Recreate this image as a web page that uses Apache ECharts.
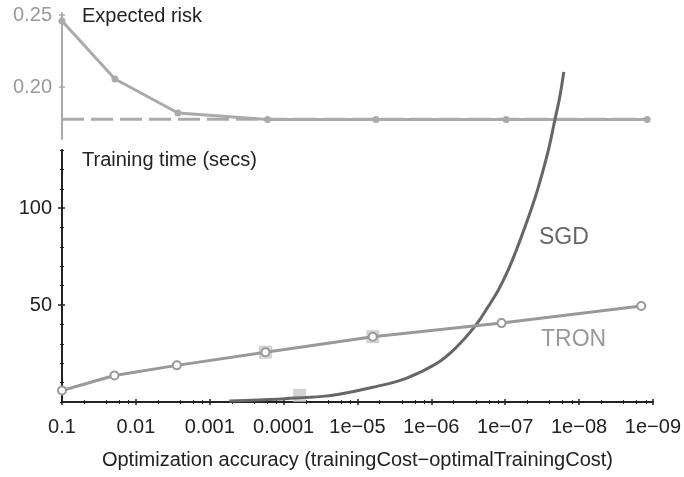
<!DOCTYPE html>
<html><head><meta charset="utf-8">
<script src="https://cdn.jsdelivr.net/npm/echarts@6/dist/echarts.min.js"></script>
<style>html,body{margin:0;padding:0;background:#fff}#c{width:684px;height:477px}</style>
</head><body><div id="c"></div>
<script>
// ---- data ----
const accuracy = [0.1, 0.0195, 0.00279, 1.76e-4, 6.2e-6, 1.12e-7, 1.44e-9];
const expectedRisk = [0.2458, 0.2056, 0.182, 0.1776, 0.1776, 0.1776, 0.1776];
const riskLimit = 0.1777;
const tronTime = [5.9, 13.7, 18.9, 25.7, 33.7, 40.7, 49.5];
const sgdAccuracy = [5.43e-4, 2.22e-4, 9.66e-5, 2.99e-5, 1.77e-5, 6.40e-6, 2.24e-6, 8.61e-7, 4.65e-7, 2.51e-7, 1.68e-7, 1.23e-7, 9.33e-8, 7.29e-8, 5.69e-8, 4.31e-8, 3.58e-8, 2.63e-8, 2.12e-8, 1.82e-8, 1.61e-8];
const sgdTime = [0.5, 1.0, 1.7, 2.9, 4.0, 7.5, 12.1, 19.7, 28.0, 39.5, 49.5, 57.9, 67.2, 77.0, 87.9, 100.8, 110.5, 129.2, 145.7, 157.6, 170.3];
const markAccuracy = [1.76e-4, 6.2e-6, 6.07e-5];
const markTime = [25.7, 33.7, 3.4];
const xTickValues = [0.1, 0.01, 1e-3, 1e-4, 1e-5, 1e-6, 1e-7, 1e-8, 1e-9];
const xTickLabels = ['0.1', '0.01', '0.001', '0.0001', '1e\u221205', '1e\u221206', '1e\u221207', '1e\u221208', '1e\u221209'];
const xMinorDivisors = [2, 4, 6, 8];
const riskTickValues = [0.20, 0.25];
const riskTickLabels = ['0.20', '0.25'];
const timeTickValues = [50, 100];
const timeTickLabels = ['50', '100'];
const timeMinorTicks = [0, 10, 20, 30, 40, 60, 70, 80, 90, 110, 120, 130];

// ---- build ----
const FF = 'Liberation Sans, Arial, Helvetica, sans-serif';
const FS = 20;
const X_MIN = 1e-9, X_MAX = 0.1;
const xMinorValues = [];
xTickValues.slice(0, -1).forEach(d => xMinorDivisors.forEach(k => xMinorValues.push(d / k)));
function lookup(vals, labels, v) {
  let best = 0, bd = Infinity;
  vals.forEach((t, i) => { const dd = Math.abs(Math.log10(Math.abs(t)) - Math.log10(Math.abs(v))); if (dd < bd) { bd = dd; best = i; } });
  return labels[best];
}
const baseX = { type: 'log', min: X_MIN, max: X_MAX, inverse: true, position: 'bottom', splitLine: { show: false }, minorTick: { show: false } };
const chart = echarts.init(document.getElementById('c'), null, { renderer: 'canvas' });
chart.setOption({
  animation: false,
  backgroundColor: '#fff',
  textStyle: { fontFamily: FF },
  grid: [
    { left: 62, right: 25, top: 13, height: 126 },
    { left: 62, right: 25, top: 150, height: 252 }
  ],
  xAxis: [
    Object.assign({}, baseX, { gridIndex: 0, show: false }),
    Object.assign({}, baseX, {
      gridIndex: 1,
      axisLine: { show: true, onZero: false, lineStyle: { color: '#222', width: 2 } },
      axisTick: { show: false },
      axisLabel: { customValues: xTickValues, formatter: v => lookup(xTickValues, xTickLabels, v), color: '#222', fontSize: FS, margin: 15, fontFamily: FF },
      name: 'Optimization accuracy (trainingCost\u2212optimalTrainingCost)',
      nameLocation: 'middle', nameGap: 48,
      nameTextStyle: { color: '#222', fontSize: FS, fontFamily: FF }
    }),
    Object.assign({}, baseX, {
      gridIndex: 1, offset: -3,
      axisLine: { show: false, onZero: false }, axisLabel: { show: false },
      axisTick: { show: true, customValues: xTickValues, length: 6, lineStyle: { color: '#222', width: 1.5 } }
    }),
    Object.assign({}, baseX, {
      gridIndex: 1, offset: -2,
      axisLine: { show: false, onZero: false }, axisLabel: { show: false },
      axisTick: { show: true, customValues: xMinorValues, length: 4, lineStyle: { color: '#222', width: 1 } }
    })
  ],
  yAxis: [
    { type: 'value', gridIndex: 0, min: 0.164, max: 0.2514, position: 'left', splitLine: { show: false },
      axisLine: { show: true, onZero: false, lineStyle: { color: '#aaa', width: 2 } }, axisTick: { show: false },
      axisLabel: { customValues: riskTickValues, formatter: v => riskTickLabels[riskTickValues.findIndex(t => Math.abs(t - v) < 1e-6)], color: '#999', fontSize: FS, margin: 10, fontFamily: FF } },
    { type: 'value', gridIndex: 0, min: 0.164, max: 0.2514, position: 'left', offset: -3, splitLine: { show: false },
      axisLine: { show: false, onZero: false }, axisLabel: { show: false },
      axisTick: { show: true, customValues: riskTickValues, length: 6, lineStyle: { color: '#aaa', width: 1.5 } } },
    { type: 'value', gridIndex: 1, min: 0, max: 130, position: 'left', splitLine: { show: false },
      axisLine: { show: true, onZero: false, lineStyle: { color: '#222', width: 2 } }, axisTick: { show: false },
      axisLabel: { customValues: timeTickValues, formatter: v => timeTickLabels[timeTickValues.indexOf(v)], color: '#222', fontSize: FS, margin: 10, fontFamily: FF } },
    { type: 'value', gridIndex: 1, min: 0, max: 130, position: 'left', offset: -3, splitLine: { show: false },
      axisLine: { show: false, onZero: false }, axisLabel: { show: false },
      axisTick: { show: true, customValues: timeTickValues, length: 7, lineStyle: { color: '#222', width: 1.5 } } },
    { type: 'value', gridIndex: 1, min: 0, max: 130, position: 'left', offset: -2, splitLine: { show: false },
      axisLine: { show: false, onZero: false }, axisLabel: { show: false },
      axisTick: { show: true, customValues: timeMinorTicks, length: 4, lineStyle: { color: '#222', width: 1 } } }
  ],
  series: [
    { type: 'line', name: 'risk limit', xAxisIndex: 0, yAxisIndex: 0, symbol: 'none', z: 2,
      data: [[accuracy[0], riskLimit], [accuracy[accuracy.length - 1], riskLimit]],
      lineStyle: { color: '#aaa', width: 3, type: [22, 7] } },
    { type: 'line', name: 'Expected risk', xAxisIndex: 0, yAxisIndex: 0, z: 3,
      data: accuracy.map((a, i) => [a, expectedRisk[i]]),
      symbol: 'circle', symbolSize: 7, itemStyle: { color: '#aaa' }, lineStyle: { color: '#aaa', width: 3 } },
    { type: 'scatter', name: 'marks', xAxisIndex: 1, yAxisIndex: 2, z: 1,
      data: markAccuracy.map((a, i) => [a, markTime[i]]),
      symbol: 'rect', symbolSize: 13, itemStyle: { color: '#c8c8c8' } },
    { type: 'line', name: 'SGD', xAxisIndex: 1, yAxisIndex: 2, z: 3, clip: false,
      data: sgdAccuracy.map((a, i) => [a, sgdTime[i]]), smooth: 0.4,
      symbol: 'none', lineStyle: { color: '#666', width: 3 } },
    { type: 'line', name: 'TRON', xAxisIndex: 1, yAxisIndex: 2, z: 4,
      data: accuracy.map((a, i) => [a, tronTime[i]]),
      symbol: 'emptyCircle', symbolSize: 8, itemStyle: { color: '#999', borderWidth: 1.5 }, lineStyle: { color: '#999', width: 3 } }
  ],
  graphic: [
    { type: 'text', left: 82, top: 6, style: { text: 'Expected risk', fontSize: FS, fill: '#222', fontFamily: FF } },
    { type: 'text', left: 82, top: 150, style: { text: 'Training time (secs)', fontSize: FS, fill: '#222', fontFamily: FF } },
    { type: 'text', left: 539, top: 226, style: { text: 'SGD', fontSize: 23, fill: '#666', fontFamily: FF } },
    { type: 'text', left: 541, top: 328, style: { text: 'TRON', fontSize: 23, fill: '#999', fontFamily: FF } }
  ]
});
</script></body></html>
